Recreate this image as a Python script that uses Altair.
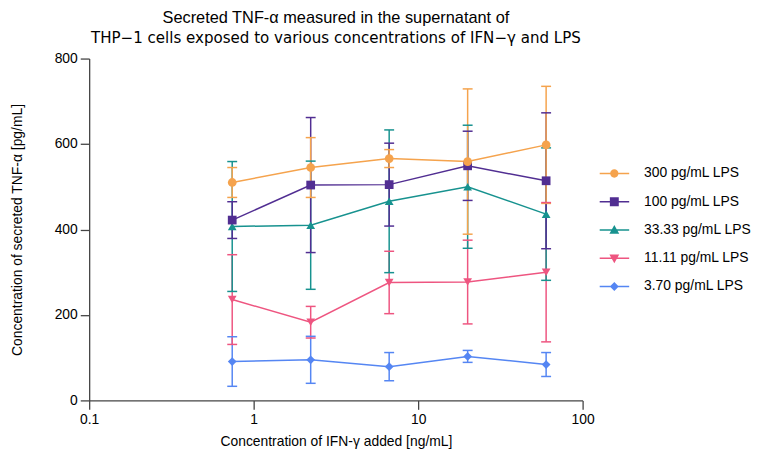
import altair as alt
import pandas as pd

# ---------------- data ----------------
ifn_conc = [0.7407, 2.222, 6.667, 20.0, 60.0]  # ng/mL IFN-gamma

series_names = [
    "300 pg/mL LPS",
    "100 pg/mL LPS",
    "33.33 pg/mL LPS",
    "11.11 pg/mL LPS",
    "3.70 pg/mL LPS",
]

mean_300 = [510, 545, 566, 559, 598]
sd_300 = [35, 70, 21, 170, 137]

mean_100 = [422, 504, 505, 549, 514]
sd_100 = [43, 158, 97, 81, 159]

mean_33 = [407, 410, 466, 500, 436]
sd_33 = [152, 150, 167, 144, 155]

mean_11 = [236, 183, 276, 277, 300]
sd_11 = [105, 37, 73, 98, 163]

mean_3 = [91, 95, 79, 103, 84]
sd_3 = [58, 55, 33, 14, 28]

x_ticks = [0.1, 1, 10, 100]
y_ticks = [0, 200, 400, 600, 800]

colors = ["#F5A34D", "#512E92", "#17928F", "#EE5580", "#5586F3"]
shapes = ["circle", "square", "triangle-up", "triangle-down", "diamond"]

# legend symbols: a thin line with the marker on it (custom SVG paths)
LINE = "M-1,-0.05H1V0.05H-1Z"
legend_paths = [
    LINE + "M0.28,0A0.28,0.28 0 1,1 -0.28,0A0.28,0.28 0 1,1 0.28,0Z",
    LINE + "M-0.3,-0.3H0.3V0.3H-0.3Z",
    LINE + "M0,-0.33L0.33,0.25H-0.33Z",
    LINE + "M0,0.33L-0.33,-0.25H0.33Z",
    LINE + "M0,-0.3L0.3,0L0,0.3L-0.3,0Z",
]

means = [mean_300, mean_100, mean_33, mean_11, mean_3]
sds = [sd_300, sd_100, sd_33, sd_11, sd_3]

rows = []
for k, name in enumerate(series_names):
    for xv, m, s in zip(ifn_conc, means[k], sds[k]):
        rows.append({"series": name, "k": k, "ifn": xv, "mean": m,
                     "lo": m - s, "hi": m + s})
df = pd.DataFrame(rows).sort_values("k", ascending=False)

FONT = "Liberation Sans"

x_enc = alt.X(
    "ifn:Q",
    scale=alt.Scale(type="log", domain=[0.1, 100], nice=False),
    axis=alt.Axis(values=x_ticks, format="~g", labelFlush=False,
                  title="Concentration of IFN-γ added [ng/mL]"),
)
y_scale = alt.Scale(domain=[0, 800], nice=False)
y_axis = alt.Axis(values=y_ticks, labelFlush=False,
                  title="Concentration of secreted TNF-α [pg/mL]",
                  titlePadding=30)
cscale = alt.Scale(domain=series_names, range=colors)
col = alt.Color("series:N", scale=cscale, legend=None)

base = alt.Chart(df)

lines = base.mark_line(strokeWidth=1.5).encode(
    x=x_enc, y=alt.Y("mean:Q", scale=y_scale, axis=y_axis), color=col
)
bars = base.mark_rule(strokeWidth=1.5).encode(
    x=x_enc, y=alt.Y("lo:Q", scale=y_scale), y2="hi:Q", color=col
)
cap_lo = base.mark_tick(orient="horizontal", size=10, thickness=1.5,
                        opacity=1).encode(
    x=x_enc, y=alt.Y("lo:Q", scale=y_scale), color=col
)
cap_hi = base.mark_tick(orient="horizontal", size=10, thickness=1.5,
                        opacity=1).encode(
    x=x_enc, y=alt.Y("hi:Q", scale=y_scale), color=col
)
points = base.mark_point(filled=True, size=78, opacity=1).encode(
    x=x_enc, y=alt.Y("mean:Q", scale=y_scale), color=col,
    shape=alt.Shape("series:N",
                    scale=alt.Scale(domain=series_names, range=shapes),
                    legend=None),
)

leg = alt.Legend(
    title=None, orient="none", legendX=515, legendY=104,
    symbolSize=900, symbolOpacity=1, symbolStrokeWidth=0,
    labelFont=FONT, labelFontSize=14, labelColor="black",
    labelOffset=15, rowPadding=4.5, clipHeight=24,
)
legend_layer = base.mark_point(filled=True, size=10, opacity=0).encode(
    x=x_enc, y=alt.Y("mean:Q", scale=y_scale),
    color=alt.Color("series:N", scale=cscale, legend=leg),
    shape=alt.Shape("series:N",
                    scale=alt.Scale(domain=series_names, range=legend_paths),
                    legend=leg),
)

chart = (
    alt.layer(bars, cap_lo, cap_hi, lines, points, legend_layer)
    .resolve_scale(color="independent", shape="independent")
    .properties(
        width=498,
        height=345,
        padding={"left": 10, "top": 8, "right": 5, "bottom": 5},
        title=alt.Title(
            text="Secreted TNF-α measured in the supernatant of",
            subtitle="THP−1 cells exposed to various concentrations of IFN−γ and LPS",
            font=FONT, fontSize=16.5, fontWeight="normal",
            color="black",
            subtitleFont="DejaVu Sans", subtitleFontSize=15.2,
            subtitleColor="black", subtitlePadding=4,
            anchor="middle", offset=6,
        ),
    )
    .configure_view(stroke=None)
    .configure_axis(
        grid=False, domainColor="#444", tickColor="#444",
        domainWidth=1.3, tickWidth=1.3, tickSize=9, labelPadding=3,
        labelFont=FONT, labelFontSize=14, labelColor="black",
        titleFont=FONT, titleFontSize=14, titleFontWeight="normal",
        titleColor="black",
    )
    .configure_axisX(titlePadding=9)
)

chart.save("out.html", embed_options={"renderer": "svg", "actions": False})
